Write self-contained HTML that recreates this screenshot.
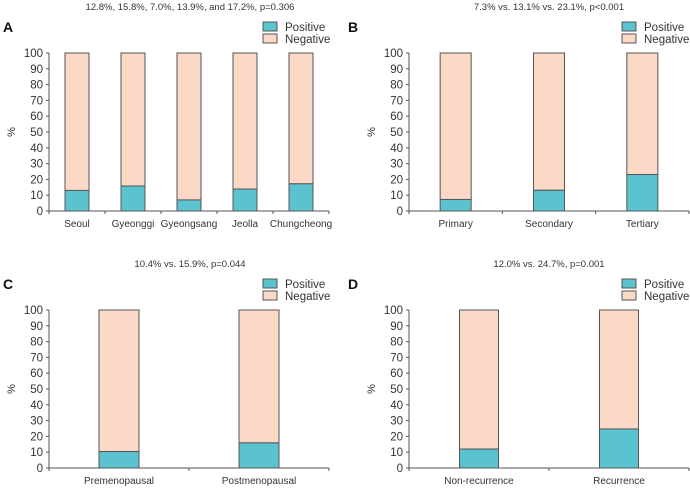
<!DOCTYPE html>
<html><head><meta charset="utf-8"><style>
body{margin:0;background:#fff}
svg text{font-family:"Liberation Sans",sans-serif;fill:#333}
</style></head><body>
<svg id="s" width="690" height="486"></svg>
<script>
const catsA=["Seoul","Gyeonggi","Gyeongsang","Jeolla","Chungcheong"];
const valsA=[13.0,15.8,7.0,13.9,17.2];
const catsB=["Primary","Secondary","Tertiary"];
const valsB=[7.3,13.1,23.1];
const catsC=["Premenopausal","Postmenopausal"];
const valsC=[10.4,15.9];
const catsD=["Non-recurrence","Recurrence"];
const valsD=[12.0,24.7];
const titles=["12.8%, 15.8%, 7.0%, 13.9%, and 17.2%, p=0.306","7.3% vs. 13.1% vs. 23.1%, p<0.001","10.4% vs. 15.9%, p=0.044","12.0% vs. 24.7%, p=0.001"];
const yTicks=[0,10,20,30,40,50,60,70,80,90,100];
const NS="http://www.w3.org/2000/svg";
const svg=document.getElementById('s');
function mk(t,a,p){const e=document.createElementNS(NS,t);for(const k in a)e.setAttribute(k,a[k]);(p||svg).appendChild(e);return e;}
function panel(letter,title,cats,vals,ox,oy,x0,x1,bw,titleX,legX){
  const g=mk('g',{});
  
  
  const top=oy+53,bot=oy+211;
  const y=v=>bot-(v/100)*(bot-top);
  const band=(x1-x0)/cats.length;
  const xc=i=>x0+band*(i+0.5);
  let t=mk('text',{x:titleX,y:oy+10,'font-size':9.5,'text-anchor':'middle'},g);t.textContent=title;
  
  t=mk('text',{x:ox+3,y:oy+32,'font-size':14,'font-weight':'bold'},g);t.textContent=letter;t.style.fill='#111';
  
  [["Positive","#5bc3cf",0],["Negative","#fcd9c6",12]].forEach(([n,c,d])=>{
    const r=mk('rect',{x:legX,y:oy+22+d,width:14,height:9,fill:c,stroke:'#555','stroke-width':1},g);
    
    const tt=mk('text',{x:legX+22,y:oy+31+d,'font-size':11.5},g);tt.textContent=n;
    
  });
  mk('line',{x1:x0,y1:top,x2:x0,y2:bot,stroke:'#555'},g);
  mk('line',{x1:x0,y1:bot,x2:x1,y2:bot,stroke:'#555'},g);
  yTicks.forEach(v=>{
    mk('line',{x1:x0-3,y1:y(v),x2:x0,y2:y(v),stroke:'#555'},g);
    const tt=mk('text',{x:x0-6,y:y(v)+4,'font-size':11.5,'text-anchor':'end'},g);tt.textContent=v;
    
  });
  for(let i=0;i<=cats.length;i++)mk('line',{x1:x0+band*i,y1:bot,x2:x0+band*i,y2:bot+3,stroke:'#555'},g);
  t=mk('text',{x:0,y:0,'font-size':11,'text-anchor':'middle',transform:`translate(${x0-34},${(top+bot)/2}) rotate(-90)`},g);t.textContent='%';
  
  cats.forEach((c,i)=>{
    const neg=mk('rect',{x:xc(i)-bw/2,y:y(100),width:bw,height:y(vals[i])-y(100),fill:'#fcd9c6',stroke:'#555','stroke-width':1},g);
    
    const pos=mk('rect',{x:xc(i)-bw/2,y:y(vals[i]),width:bw,height:bot-y(vals[i]),fill:'#5bc3cf',stroke:'#555','stroke-width':1},g);
    
    const tt=mk('text',{x:xc(i),y:bot+16,'font-size':10,'text-anchor':'middle'},g);tt.textContent=c;
    
  });
}
panel('A',titles[0],catsA,valsA,0,0,49,329,24,190,263);
panel('B',titles[1],catsB,valsB,345,0,409,689,31,549,622);
panel('C',titles[2],catsC,valsC,0,257,49,329,40,190,263);
panel('D',titles[3],catsD,valsD,345,257,409,689,39,549,622);
</script>
</body></html>
